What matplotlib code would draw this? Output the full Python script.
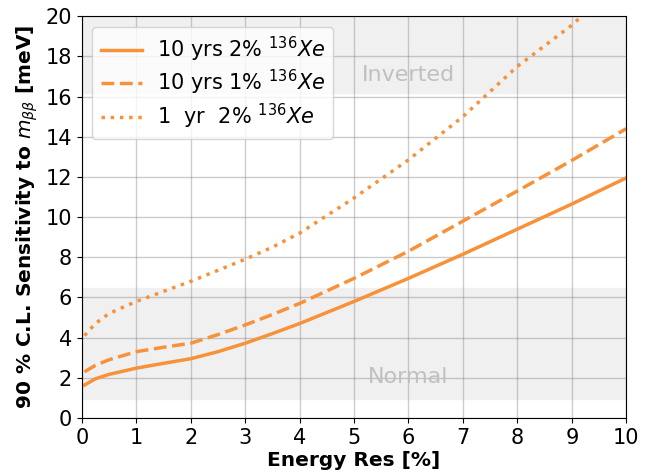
import matplotlib
matplotlib.use("Agg")
import matplotlib.pyplot as plt
import numpy as np

x = [0.05, 0.25, 0.5, 1, 1.5, 2, 2.5, 3, 3.5, 4, 5, 6, 7, 8, 9, 10]
y_10y_2 = [1.64, 1.95, 2.17, 2.48, 2.72, 2.95, 3.3, 3.72, 4.2, 4.7, 5.8, 6.95, 8.15, 9.4, 10.65, 11.95]
y_10y_1 = [2.3, 2.62, 2.9, 3.3, 3.52, 3.72, 4.15, 4.63, 5.15, 5.7, 6.95, 8.3, 9.8, 11.3, 12.82, 14.4]
x_dot = [0.05, 0.25, 0.5, 1, 1.5, 2, 2.5, 3, 3.5, 4, 5, 6, 7, 8, 9, 9.3]
y_1y_2 = [4.1, 4.7, 5.2, 5.8, 6.3, 6.8, 7.35, 7.9, 8.5, 9.2, 10.95, 12.85, 15.0, 17.5, 19.55, 20.3]

inv_band = (16.2, 30)
norm_band = (0.95, 6.45)

color = '#f7923a'

fig = plt.figure(figsize=(6.49, 4.75), dpi=100)
ax = fig.add_axes([0.126, 0.12, 0.839, 0.846])

ax.axhspan(*inv_band, color='#f0f0f0', zorder=0)
ax.axhspan(*norm_band, color='#f0f0f0', zorder=0)
ax.text(6.0, 17.05, 'Inverted', color='#c0c0c0', fontsize=16, ha='center', va='center')
ax.text(6.0, 2.05, 'Normal', color='#c0c0c0', fontsize=16, ha='center', va='center')

ax.plot(x, y_10y_2, '-', color=color, lw=2.5, label=r'10 yrs 2% $^{136}Xe$')
ax.plot(x, y_10y_1, '--', color=color, lw=2.5, label=r'10 yrs 1% $^{136}Xe$')
ax.plot(x_dot, y_1y_2, ':', color=color, lw=2.5, label=r'1  yr  2% $^{136}Xe$')

ax.set_xlim(0, 10)
ax.set_ylim(0, 20)
ax.set_xticks(range(0, 11))
ax.set_yticks(range(0, 21, 2))
ax.tick_params(labelsize=15)
ax.grid(True, color='grey', alpha=0.4, lw=1)
ax.set_axisbelow(True)
ax.set_xlabel('Energy Res [%]', fontsize=14.5, fontweight='bold', labelpad=2)
ax.set_ylabel(r'90 % C.L. Sensitivity to $m_{\beta\beta}$ [meV]', fontsize=14.5, fontweight='bold', labelpad=4)
ax.legend(loc='upper left', fontsize=15, handlelength=2.0, labelspacing=0.2, handletextpad=0.7)

fig.savefig('out.png', dpi=100)
